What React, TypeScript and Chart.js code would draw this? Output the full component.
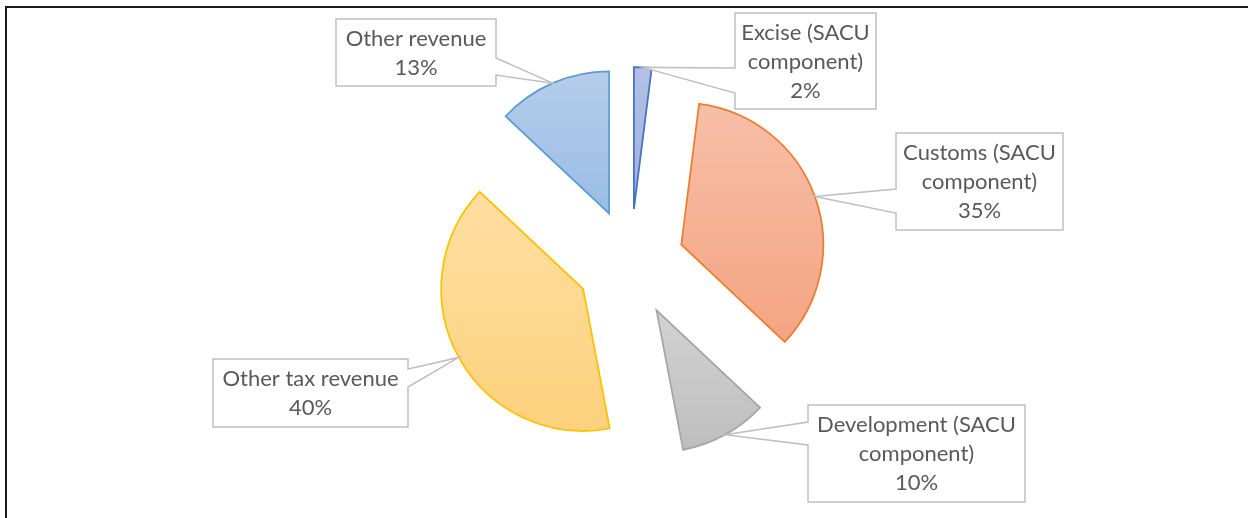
import React, { useEffect, useRef } from 'react';
import { Chart, registerables } from 'chart.js';

Chart.register(...registerables);

// ---- data ----
const categories = [
  'Excise (SACU component)',
  'Customs (SACU component)',
  'Development (SACU component)',
  'Other tax revenue',
  'Other revenue',
];
const shares = [2, 35, 10, 40, 13];

// ---- styles ----
const borderColors = ['#4472C4', '#ED7D31', '#A5A5A5', '#FFC000', '#5B9BD5'];
const gradientTop = ['#b3c0e6', '#f7bfa7', '#d2d2d2', '#fedfa2', '#b5cdea'];
const gradientBottom = ['#9fafdd', '#f4a482', '#bebebe', '#fdd17c', '#9abde5'];

// ---- layout (callout boxes) ----
const calloutBoxes = [
  { x: 735, y: 13, w: 141, h: 96, side: 'left', b1: 55, b2: 80 },
  { x: 896, y: 133, w: 167, h: 97, side: 'left', b1: 56, b2: 80 },
  { x: 808, y: 405, w: 217, h: 97, side: 'left', b1: 17, b2: 40 },
  { x: 213, y: 359, w: 195, h: 68, side: 'right', b1: 10, b2: 28 },
  { x: 336, y: 19, w: 160, h: 67, side: 'right', b1: 39, b2: 56 },
];

const EXPLODE = 54;
const RADIUS = 142;
const FONT_SIZE = 22;
const FONT = `${FONT_SIZE}px Lato, "Open Sans", sans-serif`;
const LINE = 29;
const CAP = 15.5;

function wrapText(ctx: CanvasRenderingContext2D, text: string, maxW: number): string[] {
  const words = text.split(' ');
  const lines: string[] = [];
  let cur = '';
  for (const w of words) {
    const test = cur ? cur + ' ' + w : w;
    if (cur && ctx.measureText(test).width > maxW) {
      lines.push(cur);
      cur = w;
    } else {
      cur = test;
    }
  }
  if (cur) lines.push(cur);
  return lines;
}

const explodePlugin = {
  id: 'explodeSlices',
  afterDatasetsUpdate(chart: any) {
    const meta = chart.getDatasetMeta(0);
    const ctx = chart.ctx as CanvasRenderingContext2D;
    meta.data.forEach((arc: any, i: number) => {
      const half = (arc.startAngle + arc.endAngle) / 2;
      arc.x += Math.cos(half) * EXPLODE;
      arc.y += Math.sin(half) * EXPLODE;
      let minY = arc.y;
      let maxY = arc.y;
      for (let k = 0; k <= 80; k++) {
        const a = arc.startAngle + ((arc.endAngle - arc.startAngle) * k) / 80;
        const yy = arc.y + Math.sin(a) * arc.outerRadius;
        minY = Math.min(minY, yy);
        maxY = Math.max(maxY, yy);
      }
      const g = ctx.createLinearGradient(0, minY, 0, maxY);
      g.addColorStop(0, gradientTop[i]);
      g.addColorStop(1, gradientBottom[i]);
      arc.options = Object.assign({}, arc.options, { backgroundColor: g });
    });
  },
};

const calloutPlugin = {
  id: 'callouts',
  afterDatasetsDraw(chart: any) {
    const ctx = chart.ctx as CanvasRenderingContext2D;
    const meta = chart.getDatasetMeta(0);
    const total = shares.reduce((a, b) => a + b, 0);
    ctx.save();
    ctx.font = FONT;
    meta.data.forEach((arc: any, i: number) => {
      const box = calloutBoxes[i];
      const half = (arc.startAngle + arc.endAngle) / 2;
      const tx = arc.x + Math.cos(half) * arc.outerRadius;
      const ty = arc.y + Math.sin(half) * arc.outerRadius;
      const { x, y, w, h, side, b1, b2 } = box;
      ctx.beginPath();
      if (side === 'right') {
        ctx.moveTo(x, y);
        ctx.lineTo(x + w, y);
        ctx.lineTo(x + w, y + b1);
        ctx.lineTo(tx, ty);
        ctx.lineTo(x + w, y + b2);
        ctx.lineTo(x + w, y + h);
        ctx.lineTo(x, y + h);
        ctx.closePath();
      } else {
        ctx.moveTo(x, y);
        ctx.lineTo(x + w, y);
        ctx.lineTo(x + w, y + h);
        ctx.lineTo(x, y + h);
        ctx.lineTo(x, y + b2);
        ctx.lineTo(tx, ty);
        ctx.lineTo(x, y + b1);
        ctx.closePath();
      }
      ctx.fillStyle = '#ffffff';
      ctx.fill();
      ctx.strokeStyle = '#bfbfbf';
      ctx.lineWidth = 1.5;
      ctx.lineJoin = 'miter';
      ctx.stroke();

      const lines = wrapText(ctx, categories[i], w - 4).concat([
        Math.round((shares[i] / total) * 100) + '%',
      ]);
      ctx.fillStyle = '#595959';
      ctx.textAlign = 'center';
      ctx.textBaseline = 'alphabetic';
      const cy = y + h / 2;
      lines.forEach((ln, k) => {
        const lc = cy + (k - (lines.length - 1) / 2) * LINE;
        ctx.fillText(ln, x + w / 2, lc + CAP / 2);
      });
    });
    ctx.restore();
  },
  afterDraw(chart: any) {
    const ctx = chart.ctx as CanvasRenderingContext2D;
    ctx.save();
    ctx.fillStyle = '#1a1a1a';
    ctx.fillRect(5, 6, chart.width - 5, 2);
    ctx.fillRect(5, 6, 2, chart.height - 6);
    ctx.restore();
  },
};

export default function App() {
  const ref = useRef<HTMLCanvasElement | null>(null);
  useEffect(() => {
    if (!ref.current) return;
    const chart = new Chart(ref.current, {
      type: 'pie',
      data: {
        labels: categories,
        datasets: [
          {
            data: shares,
            backgroundColor: gradientBottom,
            borderColor: borderColors,
            borderWidth: 1.75,
            borderJoinStyle: 'miter',
            radius: RADIUS,
          } as any,
        ],
      },
      options: {
        animation: false,
        responsive: false,
        layout: { padding: { left: 13, right: 0, top: 8, bottom: 0 } },
        plugins: {
          legend: { display: false },
          tooltip: { enabled: false },
        },
        events: [],
      },
      plugins: [explodePlugin, calloutPlugin],
    });
    return () => chart.destroy();
  }, []);
  return (
    <div style={{ position: 'fixed', left: 0, top: 0, width: 1248, height: 518, background: '#fff' }}>
      <canvas ref={ref} width={1248} height={518} style={{ display: 'block' }} />
    </div>
  );
}
